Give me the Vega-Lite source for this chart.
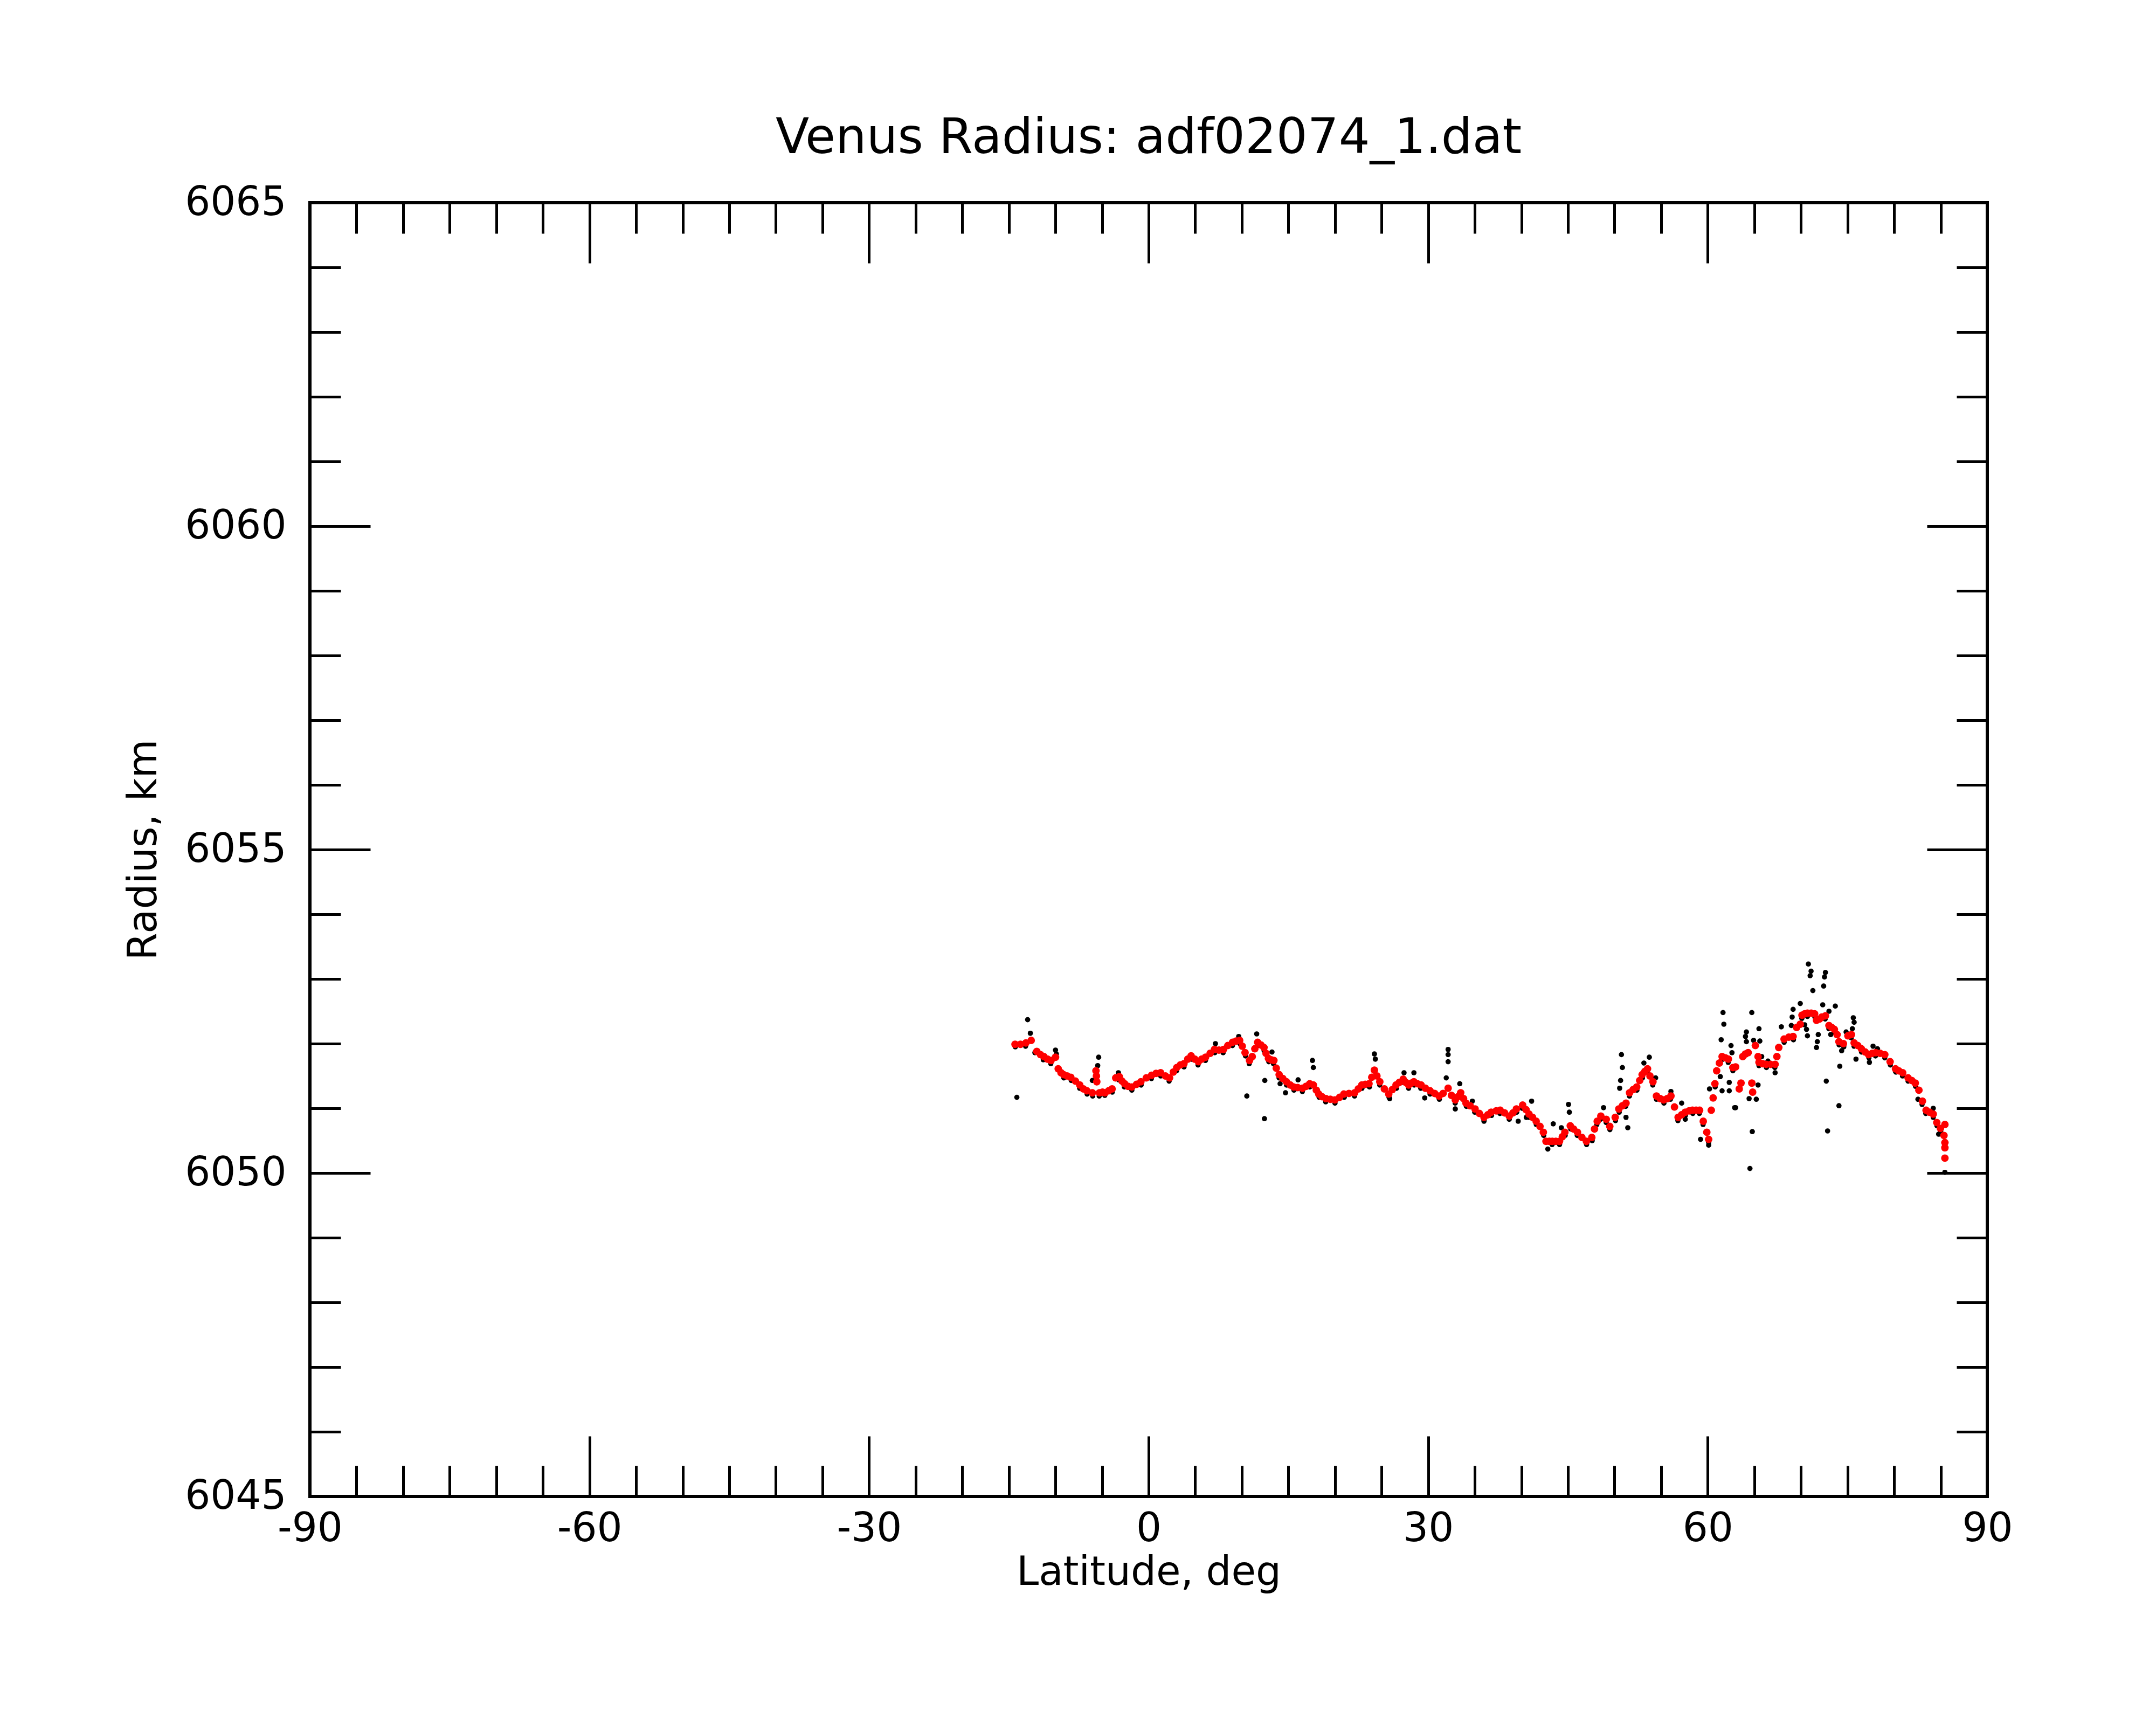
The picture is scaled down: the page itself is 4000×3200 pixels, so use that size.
{
  "$schema": "https://vega.github.io/schema/vega-lite/v6.json",
  "width": 3112,
  "height": 2400,
  "autosize": {"type": "none"},
  "padding": {"left": 575, "top": 376, "right": 313, "bottom": 424},
  "background": "white",
  "title": {"text": "Venus Radius: adf02074_1.dat", "font": "DejaVu Sans", "fontSize": 91, "fontWeight": "normal", "color": "black", "anchor": "middle", "frame": "group", "baseline": "alphabetic", "offset": -36},
  "config": {
    "view": {"stroke": "black", "strokeWidth": 6},
    "axis": {"grid": false, "domain": false, "labelFont": "DejaVu Sans", "titleFont": "DejaVu Sans", "labelFontSize": 74, "titleFontSize": 74, "labelColor": "black", "titleColor": "black", "tickColor": "black", "tickWidth": 5, "titleFontWeight": "normal", "labelOverlap": false, "labelLimit": 0, "labelFlush": false}
  },
  "datasets": {
    "smooth": [
      {"lat": -14.33, "r": 6051.99}, {"lat": -13.75, "r": 6051.99}, {"lat": -13.17, "r": 6052.01}, {"lat": -12.6, "r": 6052.05}, {"lat": -12.0, "r": 6051.88}, {"lat": -11.6, "r": 6051.83}, {"lat": -11.24, "r": 6051.8}, {"lat": -10.85, "r": 6051.76}, {"lat": -10.47, "r": 6051.74}, {"lat": -9.99, "r": 6051.79}, {"lat": -9.7, "r": 6051.61}, {"lat": -9.4, "r": 6051.55}, {"lat": -9.12, "r": 6051.52}, {"lat": -8.75, "r": 6051.5}, {"lat": -8.35, "r": 6051.48}, {"lat": -7.85, "r": 6051.42}, {"lat": -7.39, "r": 6051.36}, {"lat": -7.0, "r": 6051.3}, {"lat": -6.62, "r": 6051.27}, {"lat": -6.04, "r": 6051.24}, {"lat": -5.65, "r": 6051.58}, {"lat": -5.6, "r": 6051.5}, {"lat": -5.56, "r": 6051.41}, {"lat": -5.27, "r": 6051.24}, {"lat": -4.95, "r": 6051.25}, {"lat": -4.69, "r": 6051.24}, {"lat": -4.3, "r": 6051.27}, {"lat": -3.92, "r": 6051.3}, {"lat": -3.53, "r": 6051.47}, {"lat": -3.15, "r": 6051.49}, {"lat": -2.85, "r": 6051.42}, {"lat": -2.57, "r": 6051.38}, {"lat": -2.2, "r": 6051.34}, {"lat": -1.8, "r": 6051.33}, {"lat": -1.3, "r": 6051.37}, {"lat": -0.83, "r": 6051.41}, {"lat": -0.25, "r": 6051.47}, {"lat": 0.32, "r": 6051.51}, {"lat": 0.8, "r": 6051.54}, {"lat": 1.29, "r": 6051.55}, {"lat": 1.8, "r": 6051.5}, {"lat": 2.25, "r": 6051.47}, {"lat": 2.65, "r": 6051.56}, {"lat": 3.02, "r": 6051.63}, {"lat": 3.4, "r": 6051.67}, {"lat": 3.79, "r": 6051.69}, {"lat": 4.2, "r": 6051.76}, {"lat": 4.56, "r": 6051.81}, {"lat": 4.95, "r": 6051.76}, {"lat": 5.34, "r": 6051.72}, {"lat": 5.7, "r": 6051.76}, {"lat": 6.11, "r": 6051.79}, {"lat": 6.6, "r": 6051.85}, {"lat": 7.07, "r": 6051.91}, {"lat": 7.55, "r": 6051.9}, {"lat": 8.04, "r": 6051.91}, {"lat": 8.5, "r": 6051.97}, {"lat": 9.0, "r": 6052.02}, {"lat": 9.4, "r": 6052.04}, {"lat": 9.77, "r": 6052.05}, {"lat": 10.05, "r": 6051.96}, {"lat": 10.35, "r": 6051.86}, {"lat": 10.83, "r": 6051.74}, {"lat": 11.12, "r": 6051.8}, {"lat": 11.4, "r": 6051.92}, {"lat": 11.7, "r": 6052.02}, {"lat": 12.05, "r": 6051.98}, {"lat": 12.38, "r": 6051.94}, {"lat": 12.6, "r": 6051.85}, {"lat": 12.86, "r": 6051.77}, {"lat": 13.15, "r": 6051.75}, {"lat": 13.44, "r": 6051.74}, {"lat": 13.7, "r": 6051.62}, {"lat": 14.01, "r": 6051.52}, {"lat": 14.4, "r": 6051.46}, {"lat": 14.79, "r": 6051.41}, {"lat": 15.2, "r": 6051.36}, {"lat": 15.56, "r": 6051.33}, {"lat": 16.0, "r": 6051.32}, {"lat": 16.52, "r": 6051.31}, {"lat": 16.9, "r": 6051.34}, {"lat": 17.29, "r": 6051.38}, {"lat": 17.68, "r": 6051.36}, {"lat": 18.0, "r": 6051.28}, {"lat": 18.26, "r": 6051.22}, {"lat": 18.6, "r": 6051.18}, {"lat": 19.03, "r": 6051.15}, {"lat": 19.5, "r": 6051.14}, {"lat": 19.99, "r": 6051.13}, {"lat": 20.5, "r": 6051.17}, {"lat": 20.95, "r": 6051.22}, {"lat": 21.5, "r": 6051.23}, {"lat": 22.11, "r": 6051.24}, {"lat": 22.5, "r": 6051.3}, {"lat": 22.88, "r": 6051.36}, {"lat": 23.25, "r": 6051.37}, {"lat": 23.65, "r": 6051.38}, {"lat": 23.95, "r": 6051.48}, {"lat": 24.23, "r": 6051.59}, {"lat": 24.5, "r": 6051.5}, {"lat": 24.81, "r": 6051.41}, {"lat": 25.3, "r": 6051.3}, {"lat": 25.77, "r": 6051.22}, {"lat": 26.15, "r": 6051.29}, {"lat": 26.55, "r": 6051.36}, {"lat": 26.9, "r": 6051.4}, {"lat": 27.32, "r": 6051.45}, {"lat": 27.6, "r": 6051.4}, {"lat": 27.9, "r": 6051.36}, {"lat": 28.2, "r": 6051.39}, {"lat": 28.47, "r": 6051.41}, {"lat": 28.85, "r": 6051.38}, {"lat": 29.24, "r": 6051.36}, {"lat": 29.7, "r": 6051.31}, {"lat": 30.21, "r": 6051.27}, {"lat": 30.7, "r": 6051.23}, {"lat": 31.17, "r": 6051.19}, {"lat": 31.6, "r": 6051.23}, {"lat": 32.14, "r": 6051.31}, {"lat": 32.5, "r": 6051.2}, {"lat": 32.91, "r": 6051.13}, {"lat": 33.2, "r": 6051.18}, {"lat": 33.49, "r": 6051.24}, {"lat": 33.8, "r": 6051.15}, {"lat": 34.06, "r": 6051.08}, {"lat": 34.5, "r": 6051.04}, {"lat": 35.03, "r": 6050.99}, {"lat": 35.5, "r": 6050.92}, {"lat": 35.99, "r": 6050.86}, {"lat": 36.4, "r": 6050.9}, {"lat": 36.76, "r": 6050.94}, {"lat": 37.3, "r": 6050.96}, {"lat": 37.73, "r": 6050.97}, {"lat": 38.2, "r": 6050.93}, {"lat": 38.7, "r": 6050.88}, {"lat": 39.1, "r": 6050.93}, {"lat": 39.47, "r": 6050.99}, {"lat": 40.14, "r": 6051.05}, {"lat": 40.5, "r": 6050.98}, {"lat": 40.82, "r": 6050.91}, {"lat": 41.2, "r": 6050.86}, {"lat": 41.59, "r": 6050.8}, {"lat": 42.0, "r": 6050.72}, {"lat": 42.36, "r": 6050.63}, {"lat": 42.65, "r": 6050.49}, {"lat": 43.0, "r": 6050.49}, {"lat": 43.32, "r": 6050.49}, {"lat": 43.7, "r": 6050.49}, {"lat": 44.09, "r": 6050.49}, {"lat": 44.4, "r": 6050.56}, {"lat": 44.67, "r": 6050.63}, {"lat": 45.25, "r": 6050.73}, {"lat": 45.6, "r": 6050.68}, {"lat": 46.02, "r": 6050.63}, {"lat": 46.5, "r": 6050.55}, {"lat": 46.98, "r": 6050.49}, {"lat": 47.56, "r": 6050.55}, {"lat": 47.85, "r": 6050.68}, {"lat": 48.14, "r": 6050.8}, {"lat": 48.53, "r": 6050.88}, {"lat": 49.11, "r": 6050.83}, {"lat": 49.49, "r": 6050.72}, {"lat": 50.07, "r": 6050.86}, {"lat": 50.46, "r": 6050.99}, {"lat": 50.85, "r": 6051.04}, {"lat": 51.23, "r": 6051.08}, {"lat": 51.61, "r": 6051.24}, {"lat": 52.0, "r": 6051.29}, {"lat": 52.38, "r": 6051.33}, {"lat": 52.7, "r": 6051.43}, {"lat": 52.96, "r": 6051.52}, {"lat": 53.25, "r": 6051.57}, {"lat": 53.54, "r": 6051.61}, {"lat": 53.8, "r": 6051.5}, {"lat": 54.12, "r": 6051.41}, {"lat": 54.5, "r": 6051.19}, {"lat": 54.9, "r": 6051.15}, {"lat": 55.27, "r": 6051.13}, {"lat": 55.65, "r": 6051.15}, {"lat": 56.05, "r": 6051.19}, {"lat": 56.43, "r": 6051.02}, {"lat": 56.82, "r": 6050.86}, {"lat": 57.2, "r": 6050.9}, {"lat": 57.59, "r": 6050.94}, {"lat": 58.0, "r": 6050.96}, {"lat": 58.36, "r": 6050.97}, {"lat": 58.75, "r": 6050.97}, {"lat": 59.13, "r": 6050.97}, {"lat": 59.52, "r": 6050.8}, {"lat": 59.9, "r": 6050.63}, {"lat": 60.1, "r": 6050.52}, {"lat": 60.38, "r": 6050.97}, {"lat": 60.58, "r": 6051.16}, {"lat": 60.77, "r": 6051.38}, {"lat": 60.96, "r": 6051.58}, {"lat": 61.25, "r": 6051.7}, {"lat": 61.54, "r": 6051.8}, {"lat": 61.9, "r": 6051.78}, {"lat": 62.22, "r": 6051.76}, {"lat": 62.7, "r": 6051.63}, {"lat": 62.99, "r": 6051.64}, {"lat": 63.38, "r": 6051.3}, {"lat": 63.57, "r": 6051.39}, {"lat": 63.76, "r": 6051.8}, {"lat": 64.05, "r": 6051.84}, {"lat": 64.34, "r": 6051.86}, {"lat": 64.73, "r": 6051.39}, {"lat": 64.82, "r": 6051.25}, {"lat": 65.11, "r": 6051.97}, {"lat": 65.4, "r": 6051.8}, {"lat": 65.5, "r": 6051.71}, {"lat": 65.9, "r": 6051.69}, {"lat": 66.27, "r": 6051.68}, {"lat": 66.75, "r": 6051.68}, {"lat": 67.23, "r": 6051.68}, {"lat": 67.42, "r": 6051.8}, {"lat": 67.62, "r": 6051.94}, {"lat": 68.19, "r": 6052.07}, {"lat": 68.7, "r": 6052.1}, {"lat": 69.16, "r": 6052.11}, {"lat": 69.54, "r": 6052.25}, {"lat": 69.93, "r": 6052.3}, {"lat": 70.12, "r": 6052.44}, {"lat": 70.4, "r": 6052.46}, {"lat": 70.7, "r": 6052.47}, {"lat": 71.1, "r": 6052.47}, {"lat": 71.47, "r": 6052.46}, {"lat": 71.67, "r": 6052.36}, {"lat": 72.0, "r": 6052.38}, {"lat": 72.24, "r": 6052.41}, {"lat": 72.63, "r": 6052.43}, {"lat": 73.01, "r": 6052.28}, {"lat": 73.3, "r": 6052.25}, {"lat": 73.59, "r": 6052.22}, {"lat": 73.88, "r": 6052.14}, {"lat": 74.08, "r": 6052.03}, {"lat": 74.56, "r": 6052.0}, {"lat": 75.04, "r": 6052.12}, {"lat": 75.42, "r": 6052.14}, {"lat": 75.71, "r": 6052.01}, {"lat": 76.1, "r": 6051.97}, {"lat": 76.49, "r": 6051.92}, {"lat": 76.9, "r": 6051.87}, {"lat": 77.26, "r": 6051.83}, {"lat": 77.65, "r": 6051.85}, {"lat": 78.03, "r": 6051.86}, {"lat": 78.5, "r": 6051.85}, {"lat": 79.0, "r": 6051.83}, {"lat": 79.57, "r": 6051.72}, {"lat": 80.15, "r": 6051.61}, {"lat": 80.5, "r": 6051.58}, {"lat": 80.92, "r": 6051.55}, {"lat": 81.5, "r": 6051.47}, {"lat": 81.9, "r": 6051.43}, {"lat": 82.27, "r": 6051.39}, {"lat": 82.66, "r": 6051.28}, {"lat": 83.04, "r": 6051.11}, {"lat": 83.43, "r": 6050.97}, {"lat": 83.8, "r": 6050.94}, {"lat": 84.2, "r": 6050.91}, {"lat": 84.58, "r": 6050.78}, {"lat": 84.97, "r": 6050.69}, {"lat": 85.45, "r": 6050.75}, {"lat": 85.35, "r": 6050.58}, {"lat": 85.45, "r": 6050.47}, {"lat": 85.45, "r": 6050.39}, {"lat": 85.45, "r": 6050.23}
    ],
    "raw": [
      {"lat": -14.3, "r": 6051.95}, {"lat": -13.2, "r": 6051.96}, {"lat": -12.2, "r": 6051.86}, {"lat": -11.3, "r": 6051.75}, {"lat": -10.5, "r": 6051.69}, {"lat": -9.9, "r": 6051.84}, {"lat": -9.1, "r": 6051.47}, {"lat": -8.3, "r": 6051.43}, {"lat": -7.4, "r": 6051.31}, {"lat": -6.6, "r": 6051.22}, {"lat": -6.0, "r": 6051.19}, {"lat": -5.3, "r": 6051.19}, {"lat": -4.7, "r": 6051.2}, {"lat": -3.9, "r": 6051.25}, {"lat": -3.2, "r": 6051.44}, {"lat": -2.6, "r": 6051.33}, {"lat": -1.8, "r": 6051.28}, {"lat": -0.8, "r": 6051.36}, {"lat": 0.3, "r": 6051.46}, {"lat": 1.3, "r": 6051.5}, {"lat": 2.2, "r": 6051.42}, {"lat": 3.0, "r": 6051.58}, {"lat": 3.8, "r": 6051.64}, {"lat": 4.6, "r": 6051.76}, {"lat": 5.3, "r": 6051.67}, {"lat": 6.1, "r": 6051.74}, {"lat": 7.1, "r": 6051.86}, {"lat": 8.0, "r": 6051.86}, {"lat": 9.0, "r": 6051.97}, {"lat": 9.8, "r": 6052.0}, {"lat": 10.4, "r": 6051.81}, {"lat": 10.8, "r": 6051.69}, {"lat": 11.7, "r": 6051.97}, {"lat": 12.4, "r": 6051.89}, {"lat": 12.9, "r": 6051.72}, {"lat": 13.4, "r": 6051.69}, {"lat": 14.0, "r": 6051.47}, {"lat": 14.8, "r": 6051.36}, {"lat": 15.6, "r": 6051.28}, {"lat": 16.5, "r": 6051.26}, {"lat": 17.3, "r": 6051.33}, {"lat": 18.3, "r": 6051.17}, {"lat": 19.0, "r": 6051.1}, {"lat": 20.0, "r": 6051.08}, {"lat": 21.0, "r": 6051.17}, {"lat": 22.1, "r": 6051.19}, {"lat": 22.9, "r": 6051.31}, {"lat": 23.7, "r": 6051.33}, {"lat": 24.8, "r": 6051.36}, {"lat": 25.8, "r": 6051.17}, {"lat": 26.6, "r": 6051.31}, {"lat": 27.3, "r": 6051.4}, {"lat": 27.9, "r": 6051.31}, {"lat": 28.5, "r": 6051.36}, {"lat": 29.2, "r": 6051.31}, {"lat": 30.2, "r": 6051.22}, {"lat": 31.2, "r": 6051.14}, {"lat": 32.9, "r": 6051.08}, {"lat": 33.5, "r": 6051.19}, {"lat": 34.1, "r": 6051.03}, {"lat": 35.0, "r": 6050.94}, {"lat": 36.0, "r": 6050.81}, {"lat": 36.8, "r": 6050.89}, {"lat": 37.7, "r": 6050.92}, {"lat": 38.7, "r": 6050.83}, {"lat": 39.5, "r": 6050.94}, {"lat": 40.1, "r": 6051.0}, {"lat": 40.8, "r": 6050.86}, {"lat": 41.6, "r": 6050.75}, {"lat": 42.4, "r": 6050.58}, {"lat": 43.3, "r": 6050.44}, {"lat": 44.1, "r": 6050.44}, {"lat": 44.7, "r": 6050.58}, {"lat": 45.3, "r": 6050.68}, {"lat": 46.0, "r": 6050.58}, {"lat": 47.0, "r": 6050.44}, {"lat": 47.6, "r": 6050.5}, {"lat": 48.1, "r": 6050.75}, {"lat": 48.5, "r": 6050.83}, {"lat": 49.1, "r": 6050.78}, {"lat": 49.5, "r": 6050.67}, {"lat": 50.1, "r": 6050.81}, {"lat": 50.5, "r": 6050.94}, {"lat": 51.2, "r": 6051.03}, {"lat": 51.6, "r": 6051.19}, {"lat": 52.4, "r": 6051.28}, {"lat": 53.0, "r": 6051.47}, {"lat": 53.5, "r": 6051.56}, {"lat": 54.1, "r": 6051.36}, {"lat": 54.5, "r": 6051.14}, {"lat": 55.3, "r": 6051.08}, {"lat": 56.0, "r": 6051.14}, {"lat": 56.8, "r": 6050.81}, {"lat": 57.6, "r": 6050.89}, {"lat": 58.4, "r": 6050.92}, {"lat": 59.1, "r": 6050.92}, {"lat": 59.5, "r": 6050.75}, {"lat": 60.1, "r": 6050.47}, {"lat": 60.8, "r": 6051.33}, {"lat": 61.5, "r": 6051.75}, {"lat": 62.2, "r": 6051.71}, {"lat": 62.7, "r": 6051.58}, {"lat": 65.5, "r": 6051.66}, {"lat": 66.3, "r": 6051.63}, {"lat": 67.2, "r": 6051.63}, {"lat": 68.2, "r": 6052.02}, {"lat": 69.2, "r": 6052.06}, {"lat": 70.1, "r": 6052.39}, {"lat": 70.7, "r": 6052.42}, {"lat": 71.5, "r": 6052.41}, {"lat": 72.6, "r": 6052.38}, {"lat": 73.0, "r": 6052.23}, {"lat": 73.6, "r": 6052.17}, {"lat": 74.1, "r": 6051.98}, {"lat": 74.6, "r": 6051.95}, {"lat": 75.4, "r": 6052.09}, {"lat": 75.7, "r": 6051.96}, {"lat": 76.5, "r": 6051.87}, {"lat": 77.3, "r": 6051.78}, {"lat": 78.0, "r": 6051.81}, {"lat": 79.0, "r": 6051.78}, {"lat": 79.6, "r": 6051.67}, {"lat": 80.2, "r": 6051.56}, {"lat": 80.9, "r": 6051.5}, {"lat": 81.5, "r": 6051.42}, {"lat": 82.3, "r": 6051.34}, {"lat": 83.0, "r": 6051.06}, {"lat": 83.4, "r": 6050.92}, {"lat": 84.2, "r": 6050.86}, {"lat": 84.6, "r": 6050.73}, {"lat": 85.0, "r": 6050.64},
      {"lat": -14.14, "r": 6051.17}, {"lat": -12.98, "r": 6052.37}, {"lat": -12.69, "r": 6052.16}, {"lat": -9.99, "r": 6051.9}, {"lat": -5.36, "r": 6051.79}, {"lat": -5.46, "r": 6051.66}, {"lat": -6.04, "r": 6051.43}, {"lat": -3.24, "r": 6051.55}, {"lat": 7.17, "r": 6052.0}, {"lat": 9.67, "r": 6052.11}, {"lat": 10.54, "r": 6051.19}, {"lat": 11.6, "r": 6052.15}, {"lat": 12.47, "r": 6051.43}, {"lat": 12.43, "r": 6050.84}, {"lat": 13.24, "r": 6051.87}, {"lat": 14.11, "r": 6051.38}, {"lat": 14.69, "r": 6051.24}, {"lat": 16.04, "r": 6051.44}, {"lat": 17.58, "r": 6051.74}, {"lat": 17.68, "r": 6051.63}, {"lat": 24.23, "r": 6051.84}, {"lat": 24.33, "r": 6051.76}, {"lat": 25.87, "r": 6051.15}, {"lat": 27.41, "r": 6051.55}, {"lat": 28.47, "r": 6051.55}, {"lat": 29.63, "r": 6051.16}, {"lat": 32.14, "r": 6051.91}, {"lat": 32.14, "r": 6051.83}, {"lat": 32.14, "r": 6051.72}, {"lat": 31.94, "r": 6051.47}, {"lat": 33.39, "r": 6051.38}, {"lat": 32.91, "r": 6050.99}, {"lat": 34.74, "r": 6051.11}, {"lat": 35.99, "r": 6050.8}, {"lat": 39.66, "r": 6050.8}, {"lat": 40.53, "r": 6050.86}, {"lat": 41.1, "r": 6051.11}, {"lat": 42.84, "r": 6050.37}, {"lat": 43.42, "r": 6050.76}, {"lat": 44.29, "r": 6050.7}, {"lat": 45.06, "r": 6051.06}, {"lat": 45.15, "r": 6050.94}, {"lat": 48.82, "r": 6051.01}, {"lat": 50.74, "r": 6051.83}, {"lat": 50.84, "r": 6051.63}, {"lat": 50.65, "r": 6051.43}, {"lat": 50.55, "r": 6051.31}, {"lat": 51.23, "r": 6050.86}, {"lat": 51.42, "r": 6050.7}, {"lat": 53.73, "r": 6051.79}, {"lat": 53.15, "r": 6051.7}, {"lat": 54.41, "r": 6051.47}, {"lat": 56.05, "r": 6051.26}, {"lat": 57.2, "r": 6051.08}, {"lat": 57.59, "r": 6050.83}, {"lat": 59.23, "r": 6050.52}, {"lat": 60.1, "r": 6050.43}, {"lat": 61.64, "r": 6052.48}, {"lat": 61.73, "r": 6052.3}, {"lat": 61.44, "r": 6052.06}, {"lat": 62.5, "r": 6051.97}, {"lat": 62.6, "r": 6051.86}, {"lat": 61.35, "r": 6051.49}, {"lat": 62.31, "r": 6051.4}, {"lat": 61.54, "r": 6051.27}, {"lat": 62.31, "r": 6051.27}, {"lat": 62.89, "r": 6051.01}, {"lat": 60.48, "r": 6050.97}, {"lat": 60.19, "r": 6051.3}, {"lat": 62.99, "r": 6051.01}, {"lat": 64.44, "r": 6051.15}, {"lat": 65.21, "r": 6051.14}, {"lat": 65.4, "r": 6051.36}, {"lat": 64.53, "r": 6050.07}, {"lat": 64.78, "r": 6050.64}, {"lat": 64.73, "r": 6052.48}, {"lat": 64.15, "r": 6052.18}, {"lat": 64.05, "r": 6052.11}, {"lat": 64.15, "r": 6052.03}, {"lat": 64.92, "r": 6052.05}, {"lat": 65.5, "r": 6052.23}, {"lat": 65.59, "r": 6052.04}, {"lat": 65.79, "r": 6051.8}, {"lat": 67.23, "r": 6051.55}, {"lat": 66.46, "r": 6051.73}, {"lat": 67.9, "r": 6052.26}, {"lat": 68.97, "r": 6052.28}, {"lat": 69.16, "r": 6052.53}, {"lat": 69.06, "r": 6052.41}, {"lat": 69.93, "r": 6052.62}, {"lat": 70.8, "r": 6053.23}, {"lat": 71.09, "r": 6053.12}, {"lat": 70.99, "r": 6053.05}, {"lat": 71.28, "r": 6052.82}, {"lat": 70.41, "r": 6052.29}, {"lat": 70.6, "r": 6052.22}, {"lat": 70.7, "r": 6052.12}, {"lat": 71.86, "r": 6052.14}, {"lat": 71.76, "r": 6052.03}, {"lat": 71.67, "r": 6051.94}, {"lat": 72.63, "r": 6053.1}, {"lat": 72.53, "r": 6053.03}, {"lat": 72.44, "r": 6052.89}, {"lat": 72.34, "r": 6052.6}, {"lat": 73.01, "r": 6052.5}, {"lat": 73.69, "r": 6052.58}, {"lat": 73.2, "r": 6052.14}, {"lat": 72.72, "r": 6051.42}, {"lat": 74.08, "r": 6051.04}, {"lat": 72.86, "r": 6050.65}, {"lat": 74.17, "r": 6051.65}, {"lat": 74.37, "r": 6051.89}, {"lat": 74.85, "r": 6052.18}, {"lat": 75.62, "r": 6052.4}, {"lat": 75.71, "r": 6052.33}, {"lat": 75.52, "r": 6052.23}, {"lat": 75.91, "r": 6051.76}, {"lat": 77.35, "r": 6051.71}, {"lat": 77.74, "r": 6051.96}, {"lat": 78.22, "r": 6051.92}, {"lat": 80.15, "r": 6051.57}, {"lat": 82.56, "r": 6051.14}, {"lat": 84.2, "r": 6051.0}, {"lat": 84.78, "r": 6050.6}, {"lat": 85.45, "r": 6050.01}
    ]
  },
  "layer": [
    {
      "data": {"name": "raw"},
      "mark": {"type": "circle", "color": "black", "opacity": 1, "size": 95},
      "encoding": {
        "x": {"field": "lat", "type": "quantitative", "scale": {"domain": [-90, 90], "nice": false, "zero": false},
              "axis": {"orient": "bottom", "values": [-90, -60, -30, 0, 30, 60, 90], "ticks": false, "labelPadding": 24, "title": "Latitude, deg", "titlePadding": 8, "labelExpr": "'' + datum.value"}},
        "y": {"field": "r", "type": "quantitative", "scale": {"domain": [6045, 6065], "nice": false, "zero": false},
              "axis": {"orient": "left", "values": [6045, 6050, 6055, 6060, 6065], "ticks": false, "labelPadding": 44, "title": "Radius, km", "titlePadding": 70, "labelExpr": "'' + datum.value"}}
      }
    },
    {
      "data": {"name": "smooth"},
      "mark": {"type": "circle", "color": "#ff0000", "opacity": 1, "size": 195},
      "encoding": {
        "x": {"field": "lat", "type": "quantitative", "scale": {"domain": [-90, 90], "nice": false, "zero": false},
              "axis": {"orient": "bottom", "values": [-60, -30, 0, 30, 60], "labels": false, "title": null, "tickSize": -112}},
        "y": {"field": "r", "type": "quantitative", "scale": {"domain": [6045, 6065], "nice": false, "zero": false},
              "axis": {"orient": "left", "values": [6050, 6055, 6060], "labels": false, "title": null, "tickSize": -112}}
      }
    },
    {
      "data": {"name": "smooth"},
      "mark": {"type": "circle", "opacity": 0},
      "encoding": {
        "x": {"field": "lat", "type": "quantitative", "scale": {"domain": [-90, 90], "nice": false, "zero": false},
              "axis": {"orient": "bottom", "values": [-85, -80, -75, -70, -65, -55, -50, -45, -40, -35, -25, -20, -15, -10, -5, 5, 10, 15, 20, 25, 35, 40, 45, 50, 55, 65, 70, 75, 80, 85], "labels": false, "title": null, "tickSize": -57}},
        "y": {"field": "r", "type": "quantitative", "scale": {"domain": [6045, 6065], "nice": false, "zero": false},
              "axis": {"orient": "left", "values": [6046, 6047, 6048, 6049, 6051, 6052, 6053, 6054, 6056, 6057, 6058, 6059, 6061, 6062, 6063, 6064], "labels": false, "title": null, "tickSize": -57}}
      }
    },
    {
      "data": {"name": "smooth"},
      "mark": {"type": "circle", "opacity": 0},
      "encoding": {
        "x": {"field": "lat", "type": "quantitative", "scale": {"domain": [-90, 90], "nice": false, "zero": false},
              "axis": {"orient": "top", "values": [-60, -30, 0, 30, 60], "labels": false, "title": null, "tickSize": -112}},
        "y": {"field": "r", "type": "quantitative", "scale": {"domain": [6045, 6065], "nice": false, "zero": false},
              "axis": {"orient": "right", "values": [6050, 6055, 6060], "labels": false, "title": null, "tickSize": -112}}
      }
    },
    {
      "data": {"name": "smooth"},
      "mark": {"type": "circle", "opacity": 0},
      "encoding": {
        "x": {"field": "lat", "type": "quantitative", "scale": {"domain": [-90, 90], "nice": false, "zero": false},
              "axis": {"orient": "top", "values": [-85, -80, -75, -70, -65, -55, -50, -45, -40, -35, -25, -20, -15, -10, -5, 5, 10, 15, 20, 25, 35, 40, 45, 50, 55, 65, 70, 75, 80, 85], "labels": false, "title": null, "tickSize": -57}},
        "y": {"field": "r", "type": "quantitative", "scale": {"domain": [6045, 6065], "nice": false, "zero": false},
              "axis": {"orient": "right", "values": [6046, 6047, 6048, 6049, 6051, 6052, 6053, 6054, 6056, 6057, 6058, 6059, 6061, 6062, 6063, 6064], "labels": false, "title": null, "tickSize": -57}}
      }
    }
  ],
  "resolve": {"axis": {"x": "independent", "y": "independent"}}
}
